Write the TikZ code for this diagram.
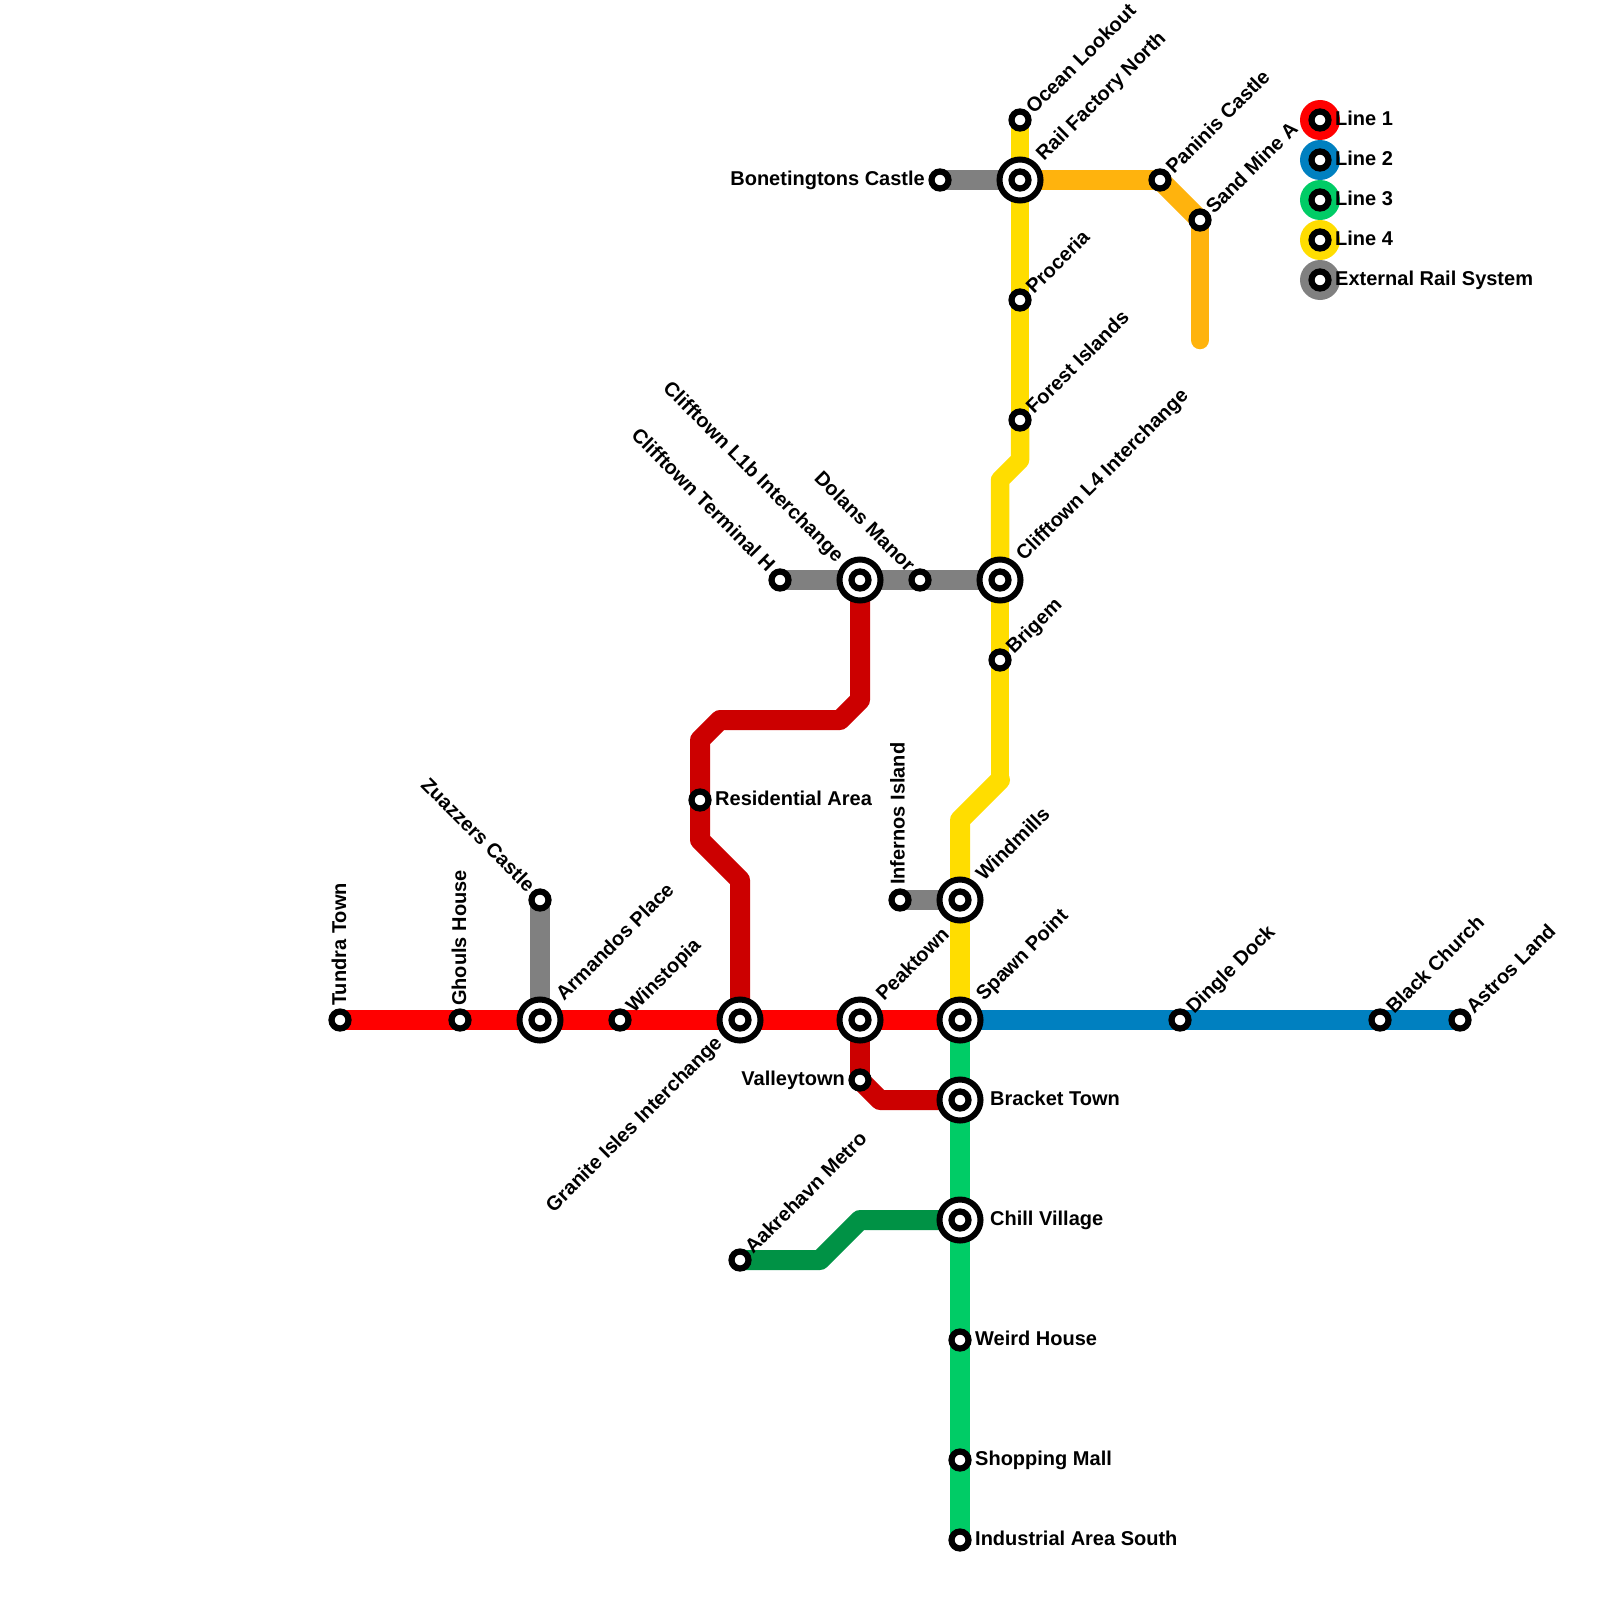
\documentclass[tikz,border=0pt]{standalone}
\usepackage{fontspec}
\setmainfont{Liberation Sans}
\usetikzlibrary{backgrounds}
\definecolor{lineone}{HTML}{FF0000}
\definecolor{lineonedark}{HTML}{CC0000}
\definecolor{linetwo}{HTML}{0080C0}
\definecolor{linethree}{HTML}{00CC66}
\definecolor{linethreedark}{HTML}{009245}
\definecolor{linefour}{HTML}{FFDD00}
\definecolor{linefourb}{HTML}{FFB30D}
\definecolor{extrail}{HTML}{808080}
\tikzset{
    stn/.style={circle,draw=black,fill=white,line width=6.2pt,minimum size=17pt,inner sep=0pt,outer sep=0pt},
    xchg/.style={circle,draw=black,fill=white,line width=6pt,minimum size=41pt,inner sep=0pt,outer sep=0pt},
    legdot/.style={circle,minimum size=40pt,inner sep=0pt,outer sep=0pt},
    lbl/.style={inner sep=0pt,text height=14.4pt,text depth=0pt,font=\fontsize{20}{22}\bfseries\selectfont},
    rail/.style={line width=20pt,line cap=round,line join=round},
    narrow/.style={rail,line width=18.5pt}
}
\begin{document}
\begin{tikzpicture}[x=1pt,y=-1pt]
            \useasboundingbox (0,0) rectangle (1600,1600);
            \clip (0,0) rectangle (1600,1600);
            % stations
            \node[stn] (tundra) at (340,1020) {};
            \node[stn] (ghouls) at (460,1020) {};
            \node[xchg] (armandos) at (540,1020) {};
            \node[stn] (armandosc) at (armandos) {};
            \node[stn] (winstopia) at (620,1020) {};
            \node[xchg] (granite) at (740,1020) {};
            \node[stn] (granitec) at (granite) {};
            \node[xchg] (peaktown) at (860,1020) {};
            \node[stn] (peaktownc) at (peaktown) {};
            \node[xchg] (spawn) at (960,1020) {};
            \node[stn] (spawnc) at (spawn) {};
            \node[stn] (dingle) at (1180,1020) {};
            \node[stn] (blackch) at (1380,1020) {};
            \node[stn] (astros) at (1460,1020) {};
            \node[stn] (zuazzers) at (540,900) {};
            \node[stn] (residential) at (700,800) {};
            \node[xchg] (cliffa) at (860,580) {};
            \node[stn] (cliffac) at (cliffa) {};
            \node[stn] (cliffh) at (780,580) {};
            \node[stn] (dolans) at (920,580) {};
            \node[xchg] (cliffb) at (1000,580) {};
            \node[stn] (cliffbc) at (cliffb) {};
            \node[stn] (brigem) at (1000,660) {};
            \node[stn] (forest) at (1020,420) {};
            \node[stn] (proceria) at (1020,300) {};
            \node[xchg] (railfac) at (1020,180) {};
            \node[stn] (railfacc) at (railfac) {};
            \node[stn] (ocean) at (1020,120) {};
            \node[stn] (bonet) at (940,180) {};
            \node[stn] (paninis) at (1160,180) {};
            \node[stn] (sandmine) at (1200,220) {};
            \node[stn] (infernos) at (900,900) {};
            \node[xchg] (windmills) at (960,900) {};
            \node[stn] (windmillsc) at (windmills) {};
            \node[stn] (valley) at (860,1080) {};
            \node[xchg] (bracket) at (960,1100) {};
            \node[stn] (bracketc) at (bracket) {};
            \node[xchg] (chill) at (960,1220) {};
            \node[stn] (chillc) at (chill) {};
            \node[stn] (akrehavn) at (740,1260) {};
            \node[stn] (weird) at (960,1340) {};
            \node[stn] (shopping) at (960,1460) {};
            \node[stn] (industrial) at (960,1540) {};
            % bends
            \coordinate (ra) at (860,700);
            \coordinate (rb) at (840,720);
            \coordinate (rc) at (720,720);
            \coordinate (rd) at (700,740);
            \coordinate (re) at (700,840);
            \coordinate (rf) at (740,880);
            \coordinate (rg) at (880,1100);
            \coordinate (ya) at (1020,460);
            \coordinate (yb) at (1000,480);
            \coordinate (yc) at (1000,780);
            \coordinate (yd) at (960,820);
            \coordinate (ga) at (820,1260);
            \coordinate (gb) at (860,1220);
            \coordinate (oend) at (1200,340);
            \begin{scope}[on background layer]
            % external rail
            \draw[rail,extrail] (bonet.center) -- (railfac.center);
            \draw[rail,extrail] (cliffh.center) -- (cliffa.center);
            \draw[rail,extrail] (cliffa.center) -- (dolans.center);
            \draw[rail,extrail] (dolans.center) -- (cliffb.center);
            \draw[rail,extrail] (infernos.center) -- (windmills.center);
            \draw[rail,extrail] (zuazzers.center) -- (armandos.center);
            % line 3
            \draw[rail,linethree] (spawn.center) -- (bracket.center);
            \draw[rail,linethree] (bracket.center) -- (chill.center);
            \draw[rail,linethree] (chill.center) -- (weird.center);
            \draw[rail,linethree] (weird.center) -- (shopping.center);
            \draw[rail,linethree] (shopping.center) -- (industrial.center);
            \draw[rail,linethreedark] (akrehavn.center) -- (ga) -- (gb) -- (chill.center);
            % line 4
            \draw[narrow,linefour] (ocean.center) -- (railfac.center);
            \draw[narrow,linefour] (railfac.center) -- (proceria.center);
            \draw[narrow,linefour] (proceria.center) -- (forest.center);
            \draw[narrow,linefour] (forest.center) -- (ya) -- (yb) -- (cliffb.center);
            \draw[narrow,linefour] (cliffb.center) -- (brigem.center);
            \draw[narrow,linefour] (brigem.center) -- (yc);
            \draw[rail,linefour] (yc) -- (yd) -- (windmills.center);
            \draw[rail,linefour] (windmills.center) -- (spawn.center);
            \draw[rail,linefourb] (railfac.center) -- (paninis.center);
            \draw[rail,linefourb] (paninis.center) -- (sandmine.center);
            \draw[narrow,linefourb] (sandmine.center) -- (oend);
            % line 2
            \draw[rail,linetwo] (spawn.center) -- (dingle.center);
            \draw[rail,linetwo] (dingle.center) -- (blackch.center);
            \draw[rail,linetwo] (blackch.center) -- (astros.center);
            % line 1
            \draw[rail,lineonedark] (cliffa.center) -- (ra) -- (rb) -- (rc) -- (rd) -- (residential.center);
            \draw[rail,lineonedark] (residential.center) -- (re) -- (rf) -- (granite.center);
            \draw[rail,lineonedark] (peaktown.center) -- (valley.center);
            \draw[rail,lineonedark] (valley.center) -- (rg) -- (bracket.center);
            \draw[rail,lineone] (tundra.center) -- (ghouls.center);
            \draw[rail,lineone] (ghouls.center) -- (armandos.center);
            \draw[rail,lineone] (armandos.center) -- (winstopia.center);
            \draw[rail,lineone] (winstopia.center) -- (granite.center);
            \draw[rail,lineone] (granite.center) -- (peaktown.center);
            \draw[rail,lineone] (peaktown.center) -- (spawn.center);
            \end{scope}
            % labels
            \node[lbl,rotate=90,anchor=west] (tundralbl) at (339,1006) {Tundra Town};
            \node[lbl,rotate=90,anchor=west] (ghoulslbl) at (459,1006) {Ghouls House};
            \node[lbl,rotate=90,anchor=west] (infernoslbl) at (897.5,885) {Infernos Island};
            \node[lbl,rotate=45,anchor=west] (armandoslbl) at (559,997) {Armandos Place};
            \node[lbl,rotate=45,anchor=west] (winstopialbl) at (629,1009) {Winstopia};
            \node[lbl,rotate=45,anchor=west] (peaktownlbl) at (879,997) {Peaktown};
            \node[lbl,rotate=45,anchor=west] (spawnlbl) at (979,997) {Spawn Point};
            \node[lbl,rotate=45,anchor=west] (dinglelbl) at (1189,1010) {Dingle Dock};
            \node[lbl,rotate=45,anchor=west] (blackchlbl) at (1389,1010) {Black Church};
            \node[lbl,rotate=45,anchor=west] (astroslbl) at (1469,1010) {Astros Land};
            \node[lbl,rotate=45,anchor=west] (windmillslbl) at (979,877) {Windmills};
            \node[lbl,rotate=45,anchor=west] (brigemlbl) at (1009,650) {Brigem};
            \node[lbl,rotate=45,anchor=west] (cliffblbl) at (1019,557) {Clifftown L4 Interchange};
            \node[lbl,rotate=45,anchor=west] (forestlbl) at (1029,410) {Forest Islands};
            \node[lbl,rotate=45,anchor=west] (procerialbl) at (1029,290) {Proceria};
            \node[lbl,rotate=45,anchor=west] (railfaclbl) at (1039,157) {Rail Factory North};
            \node[lbl,rotate=45,anchor=west] (oceanlbl) at (1029,110) {Ocean Lookout};
            \node[lbl,rotate=45,anchor=west] (paninislbl) at (1169,170) {Paninis Castle};
            \node[lbl,rotate=45,anchor=west] (sandminelbl) at (1209,210) {Sand Mine A};
            \node[lbl,rotate=45,anchor=west] (akrehavnlbl) at (748,1250) {Aakrehavn Metro};
            \node[lbl,rotate=45,anchor=east] (granitelbl) at (718,1039) {Granite Isles Interchange};
            \node[lbl,rotate=-45,anchor=east] (zuazzerslbl) at (532,888) {Zuazzers Castle};
            \node[lbl,rotate=-45,anchor=east] (cliffhlbl) at (772,568) {Clifftown Terminal H};
            \node[lbl,rotate=-45,anchor=east] (cliffalbl) at (841,558) {Clifftown L1b Interchange};
            \node[lbl,rotate=-45,anchor=east] (dolanslbl) at (912,568) {Dolans Manor};
            \node[lbl,anchor=east] (bonetlbl) at (925,178) {Bonetingtons Castle};
            \node[lbl,anchor=east] (valleylbl) at (845,1078) {Valleytown};
            \node[lbl,anchor=west] (residentiallbl) at (715,798) {Residential Area};
            \node[lbl,anchor=west] (bracketlbl) at (990,1098) {Bracket Town};
            \node[lbl,anchor=west] (chilllbl) at (990,1218) {Chill Village};
            \node[lbl,anchor=west] (weirdlbl) at (975,1338) {Weird House};
            \node[lbl,anchor=west] (shoppinglbl) at (975,1458) {Shopping Mall};
            \node[lbl,anchor=west] (industriallbl) at (975,1538) {Industrial Area South};
            % legend
            \node[legdot,fill=lineone] (lega) at (1320,120) {};
            \node[legdot,fill=linetwo] (legb) at (1320,160) {};
            \node[legdot,fill=linethree] (legc) at (1320,200) {};
            \node[legdot,fill=linefour] (legd) at (1320,240) {};
            \node[legdot,fill=extrail] (lege) at (1320,280) {};
            \node[stn] (legac) at (lega) {};
            \node[stn] (legbc) at (legb) {};
            \node[stn] (legcc) at (legc) {};
            \node[stn] (legdc) at (legd) {};
            \node[stn] (legec) at (lege) {};
            \node[lbl,anchor=west] (legalbl) at (1335,118) {Line 1};
            \node[lbl,anchor=west] (legblbl) at (1335,158) {Line 2};
            \node[lbl,anchor=west] (legclbl) at (1335,198) {Line 3};
            \node[lbl,anchor=west] (legdlbl) at (1335,238) {Line 4};
            \node[lbl,anchor=west] (legelbl) at (1335,278) {External Rail System};
\end{tikzpicture}
\end{document}
